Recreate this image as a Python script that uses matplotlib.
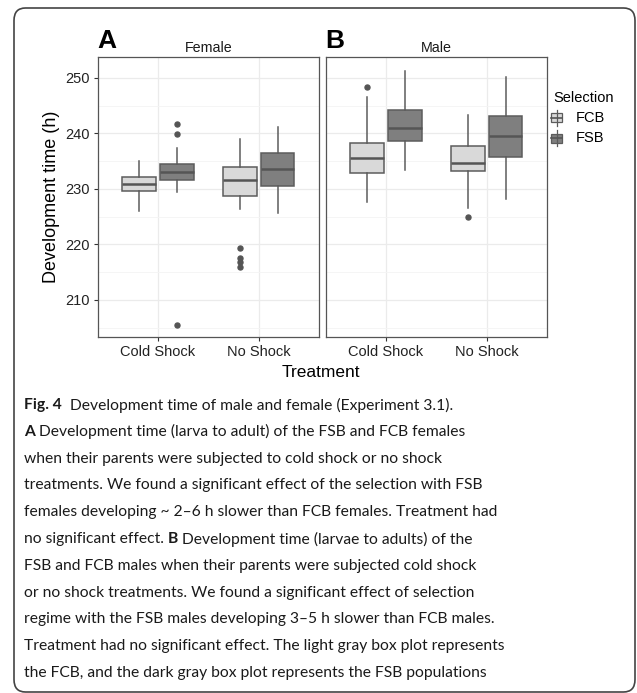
import matplotlib.pyplot as plt
from matplotlib.patches import FancyBboxPatch

# data
treatments = ['Cold Shock', 'No Shock']
selections = ['FCB', 'FSB']
fill_colors = ['#d9d9d9', '#7f7f7f']

# [low whisker, Q1, median, Q3, high whisker] per treatment
female_fcb = [[226.0, 229.6, 230.9, 232.2, 235.1], [226.3, 228.7, 231.6, 234.0, 239.0]]
female_fsb = [[229.4, 231.6, 233.1, 234.4, 237.4], [225.6, 230.5, 233.6, 236.5, 241.1]]
male_fcb = [[227.7, 232.8, 235.6, 238.3, 246.6], [226.6, 233.2, 234.7, 237.7, 243.3]]
male_fsb = [[233.4, 238.6, 241.0, 244.2, 251.3], [228.1, 235.8, 239.5, 243.1, 250.1]]

female_fcb_out = [[], [219.4, 217.6, 216.8, 216.0]]
female_fsb_out = [[241.7, 239.9, 205.4], []]
male_fcb_out = [[248.3], [225.0]]
male_fsb_out = [[], []]

y_ticks = [210, 220, 230, 240, 250]

W, H = 637, 693
fig = plt.figure(figsize=(W / 100, H / 100), dpi=100)
plt.rcParams['font.family'] = 'Liberation Sans'

# rounded card frame around figure + caption
frame = FancyBboxPatch((14 / W, 1 - 692 / H), 621 / W, 684 / H,
                       boxstyle='round,pad=0,rounding_size=0.018',
                       transform=fig.transFigure, fill=False,
                       edgecolor='#444444', lw=1.2)
fig.patches.append(frame)


def stats(five, out):
    lo, q1, med, q3, hi = five
    return dict(whislo=lo, q1=q1, med=med, q3=q3, whishi=hi, fliers=out)


def draw_panel(ax, fcb, fsb, fcb_out, fsb_out, title, letter):
    for k, (boxes, outs) in enumerate([(fcb, fcb_out), (fsb, fsb_out)]):
        offset = -0.1875 if k == 0 else 0.1875
        st = [stats(b, o) for b, o in zip(boxes, outs)]
        ax.bxp(st, positions=[1 + offset, 2 + offset], widths=0.3375,
               patch_artist=True, showcaps=False,
               boxprops=dict(facecolor=fill_colors[k], edgecolor='#5c5c5c', lw=1.1),
               medianprops=dict(color='#555555', lw=1.8),
               whiskerprops=dict(color='#5c5c5c', lw=1.1),
               flierprops=dict(marker='o', markerfacecolor='#555555',
                               markeredgecolor='#555555', markersize=3.6),
               zorder=3)
    ax.set_xlim(0.4, 2.6)
    ax.set_ylim(203.3, 253.7)
    ax.set_yticks(y_ticks)
    ax.set_yticks([205, 215, 225, 235, 245], minor=True)
    ax.set_xticks([1, 2])
    ax.set_xticklabels(treatments)
    ax.grid(True, which='major', color='#ebebeb', lw=0.9, zorder=0)
    ax.grid(True, which='minor', axis='y', color='#f4f4f4', lw=0.6, zorder=0)
    ax.set_axisbelow(True)
    for s in ax.spines.values():
        s.set_color('#555555')
        s.set_linewidth(0.9)
    ax.tick_params(axis='both', which='major', length=3, color='#333333',
                   labelsize=10.5, labelcolor='#222222', pad=2.5)
    ax.tick_params(axis='y', which='minor', length=0)
    ax.set_title(title, fontsize=10.3, pad=4, color='#1a1a1a')
    ax.annotate(letter, xy=(0, 1), xycoords='axes fraction',
                xytext=(0, 9), textcoords='offset pixels', fontsize=19,
                fontweight='bold', va='baseline', ha='left')


axL = fig.add_axes([97.7 / W, 1 - 337 / H, 221.3 / W, 279.7 / H])
axR = fig.add_axes([325.7 / W, 1 - 337 / H, 221.3 / W, 279.7 / H])
draw_panel(axL, female_fcb, female_fsb, female_fcb_out, female_fsb_out, 'Female', 'A')
draw_panel(axR, male_fcb, male_fsb, male_fcb_out, male_fsb_out, 'Male', 'B')
axR.set_yticklabels([])
axR.tick_params(axis='y', length=0)
axL.set_ylabel('Development time (h)', fontsize=13, labelpad=4)
fig.text(321 / W, 1 - 373 / H, 'Treatment', fontsize=12.5, ha='center', va='center')

# legend (boxplot-style key glyphs)
fig.text(553 / W, 1 - 98 / H, 'Selection', fontsize=10.5, va='center', ha='left')
for k, lab in enumerate(selections):
    yc = 1 - (118 + 20 * k) / H
    fig.lines.append(plt.Line2D([556.5 / W, 556.5 / W], [yc - 8 / H, yc + 8 / H],
                                transform=fig.transFigure, color='#5c5c5c', lw=0.9))
    fig.patches.append(plt.Rectangle((551 / W, yc - 4.5 / H), 11 / W, 9 / H,
                                     transform=fig.transFigure,
                                     facecolor=fill_colors[k], edgecolor='#5c5c5c', lw=0.9))
    fig.lines.append(plt.Line2D([551 / W, 562 / W], [yc, yc], transform=fig.transFigure,
                                color='#555555', lw=1.2))
    fig.text(576 / W, yc, lab, fontsize=10.5, va='center', ha='left')

# caption, pieces with bold parts
caption = [
    [('Fig. 4', True), ('  Development time of male and female (Experiment 3.1).', False)],
    [('A', True), (' Development time (larva to adult) of the FSB and FCB females', False)],
    [('when their parents were subjected to cold shock or no shock', False)],
    [('treatments. We found a significant effect of the selection with FSB', False)],
    [('females developing ~ 2\u20136 h slower than FCB females. Treatment had', False)],
    [('no significant effect. ', False), ('B', True), (' Development time (larvae to adults) of the', False)],
    [('FSB and FCB males when their parents were subjected cold shock', False)],
    [('or no shock treatments. We found a significant effect of selection', False)],
    [('regime with the FSB males developing 3\u20135 h slower than FCB males.', False)],
    [('Treatment had no significant effect. The light gray box plot represents', False)],
    [('the FCB, and the dark gray box plot represents the FSB populations', False)],
]
renderer = fig.canvas.get_renderer()
for i, pieces in enumerate(caption):
    y = 1 - (405 + 26.8 * i) / H
    x = 24
    for txt, bold in pieces:
        t = fig.text(x / W, y, txt, fontsize=11.25, family='Lato',
                     fontweight='bold' if bold else 'normal',
                     va='center', ha='left', color='#1a1a1a')
        x += t.get_window_extent(renderer).width

fig.savefig('out.png', dpi=100)
